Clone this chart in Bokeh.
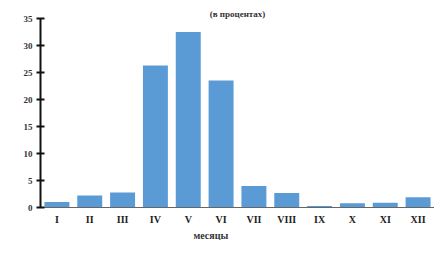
from bokeh.plotting import figure
from bokeh.models import FactorRange, Range1d, FixedTicker, Title, ColumnDataSource
from bokeh.embed import file_html
from bokeh.resources import INLINE

months = ["I", "II", "III", "IV", "V", "VI", "VII", "VIII", "IX", "X", "XI", "XII"]
values = [1.0, 2.2, 2.8, 26.3, 32.5, 23.5, 4.0, 2.7, 0.3, 0.8, 0.9, 1.9]
y_ticks = [0, 5, 10, 15, 20, 25, 30, 35]
title_text = "(в процентах)"
x_label = "месяцы"

FONT = "Liberation Serif"

p = figure(width=434, height=253, output_backend="svg", toolbar_location=None,
           x_range=FactorRange(*months, range_padding=0), y_range=Range1d(0, 35),
           frame_height=189,
           min_border_left=40, min_border_right=0, min_border_top=18, min_border_bottom=10)
p.outline_line_color = None
p.xgrid.grid_line_color = None
p.ygrid.grid_line_color = None

src = ColumnDataSource(dict(m=months, v=values))
p.vbar(x="m", top="v", width=0.76, source=src, fill_color="#5b9bd5", line_color=None)

p.yaxis.ticker = FixedTicker(ticks=y_ticks)
p.yaxis.axis_line_color = "#111111"
p.yaxis.axis_line_width = 2
p.yaxis.major_tick_line_color = "#111111"
p.yaxis.major_tick_line_width = 2
p.yaxis.major_tick_in = 4
p.yaxis.major_tick_out = 4
p.yaxis.minor_tick_line_color = None
p.yaxis.major_label_text_font = FONT
p.yaxis.major_label_text_font_style = "bold"
p.yaxis.major_label_text_font_size = "9px"
p.yaxis.major_label_text_color = "#333333"
p.yaxis.major_label_standoff = 4

p.xaxis.axis_line_color = "#666666"
p.xaxis.axis_line_width = 1
p.xaxis.major_tick_line_color = None
p.xaxis.major_tick_out = 0
p.xaxis.major_label_text_font = FONT
p.xaxis.major_label_text_font_style = "bold"
p.xaxis.major_label_text_font_size = "10px"
p.xaxis.major_label_text_color = "#222222"
p.xaxis.major_label_standoff = 6

xt = Title(text=x_label, align="left", text_font=FONT, text_font_style="bold",
           text_font_size="10px", text_color="#333333", standoff=0, offset=153)
p.add_layout(xt, "below")

t = Title(text=title_text, align="center", text_font=FONT, text_font_style="bold",
          text_font_size="9px", text_color="#333333", standoff=0, offset=6)
p.add_layout(t, "above")

open("out.html", "w").write(file_html(p, INLINE))
